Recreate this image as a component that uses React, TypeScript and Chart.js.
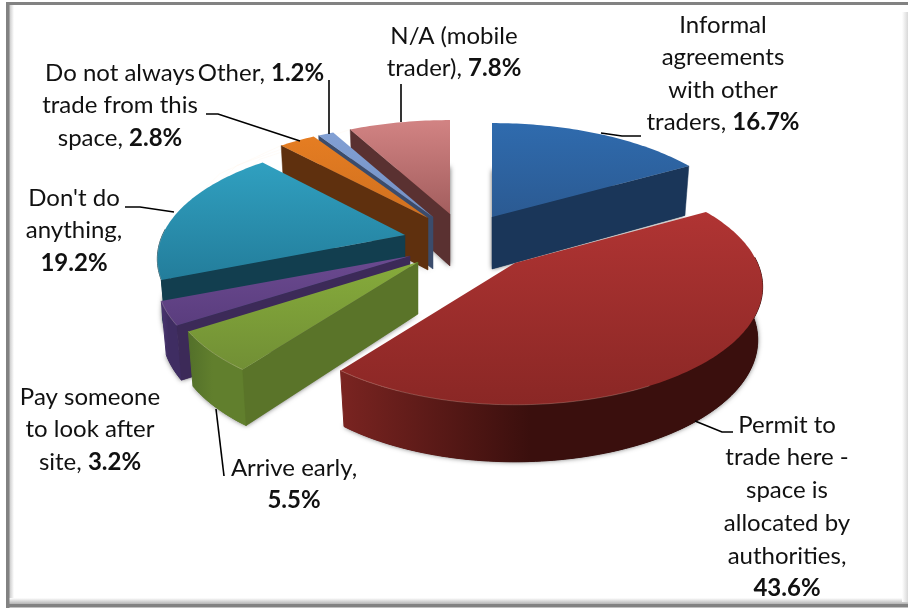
import React, { useEffect, useRef } from "react";
import { Chart, registerables } from "chart.js";

Chart.register(...registerables);

const categories = [
  "Informal agreements with other traders",
  "Permit to trade here - space is allocated by authorities",
  "Arrive early",
  "Pay someone to look after site",
  "Don't do anything",
  "Do not always trade from this space",
  "Other",
  "N/A (mobile trader)",
];
const shareValues = [16.7, 43.6, 5.5, 3.2, 19.2, 2.8, 1.2, 7.8];

const labelLines = [
  ["Informal", "agreements", "with other", "traders,"],
  ["Permit to", "trade here -", "space is", "allocated by", "authorities,", ""],
  ["Arrive early,", ""],
  ["Pay someone", "to look after", "site,"],
  ["Don't do", "anything,", ""],
  ["Do not always", "trade from this", "space,"],
  ["Other,"],
  ["N/A (mobile", "trader),"],
];

// Presentation tables (not data)
const labelAnchor: [number, number][] = [
  [723, 25], [787, 425], [294, 468], [90, 397], [74, 198], [120, 73], [261, 73], [454, 36],
];
const labelLineStep = [32.5, 32.7, 32, 32.5, 32.5, 32.5, 32, 32];
const leaders: [number, number][][] = [
  [[641, 136], [622, 136], [601, 133]],
  [[733, 432], [722, 432], [695, 421]],
  [[224, 476], [216, 409]],
  [],
  [[125, 207], [140, 207], [174, 212]],
  [[206, 114], [218, 114], [300, 141]],
  [[329, 80], [329, 134]],
  [[401, 84], [401, 122]],
];
const apex: [number, number][] = [
  [492, 217], [515, 263], [418, 262], [410, 256], [405, 235], [428, 218], [433, 217], [450, 214],
];
const widthScale = [1, 0.97, 0.975, 0.99, 0.97, 1, 1, 1];
const topColors = [
  ["#2f6bae", "#2b5a92"], ["#b03433", "#8a2725"], ["#86ab3b", "#718f35"], ["#6b4a90", "#5a3d7e"],
  ["#30a0c0", "#237d9b"], ["#e57d22", "#d0701f"], ["#82a0d4", "#7390c4"], ["#d28383", "#a35e5e"],
];
const radialWall = ["#1a3659", "#000", "#5a7429", "#3c2a58", "#123e4f", "#5f300e", "#3b4c6c", "#5a3131"];
const arcWall = [
  ["#1a3659", "#1a3659"], ["#7a2421", "#3a0f0d"], ["#53702a", "#617f2d"], ["#4a3570", "#3f2d62"],
  ["#123e4f", "#123e4f"], ["#5f300e", "#5f300e"], ["#3b4c6c", "#3b4c6c"], ["#5a3131", "#5a3131"],
];
const drawOrder = [0, 7, 6, 5, 4, 3, 2, 1];
const R = 250;
const KR = 113;
const PERSP = 0.203;
const BOTTOM_SHRINK = 0.02;

function proj(i: number, th: number, r: number, z: number): [number, number] {
  const x = r * Math.sin(th);
  const y = -r * Math.cos(th);
  const f = 1 / (1 - PERSP * y);
  return [
    apex[i][0] + widthScale[i] * R * x * f * (1 - BOTTOM_SHRINK * z),
    apex[i][1] + KR * y * f + z * (52 + 5 * y),
  ];
}

function poly(ctx: CanvasRenderingContext2D, pts: [number, number][]) {
  ctx.beginPath();
  pts.forEach((p, n) => (n ? ctx.lineTo(p[0], p[1]) : ctx.moveTo(p[0], p[1])));
  ctx.closePath();
}

function arcPts(i: number, a: number, b: number, z: number): [number, number][] {
  const out: [number, number][] = [];
  const n = Math.max(2, Math.ceil((b - a) / 0.02));
  for (let k = 0; k <= n; k++) out.push(proj(i, a + ((b - a) * k) / n, 1, z));
  return out;
}

const pie3d = {
  id: "pie3d",
  beforeDraw(chart: any) {
    const ctx: CanvasRenderingContext2D = chart.ctx;
    ctx.save();
    ctx.fillStyle = "#ffffff";
    ctx.fillRect(0, 0, 908, 610);
    let g = ctx.createLinearGradient(9, 0, 14, 0);
    g.addColorStop(0, "#c4c4c4");
    g.addColorStop(1, "#ffffff");
    ctx.fillStyle = g;
    ctx.fillRect(9, 5, 5, 597);
    g = ctx.createLinearGradient(0, 598, 0, 604);
    g.addColorStop(0, "#ffffff");
    g.addColorStop(1, "#b4b4b4");
    ctx.fillStyle = g;
    ctx.fillRect(9, 598, 899, 6);
    g = ctx.createLinearGradient(902, 0, 908, 0);
    g.addColorStop(0, "#ffffff");
    g.addColorStop(1, "#d8d8d8");
    ctx.fillStyle = g;
    ctx.fillRect(902, 12, 6, 590);
    ctx.fillStyle = "#828282";
    ctx.fillRect(6, 2, 902, 3);
    ctx.fillRect(6, 2, 3.5, 606);
    ctx.fillRect(6, 604, 902, 3.5);
    ctx.restore();
  },
  beforeDatasetsDraw(chart: any) {
    const ctx: CanvasRenderingContext2D = chart.ctx;
    const arcs = chart.getDatasetMeta(0).data;
    ctx.save();
    ctx.lineJoin = "round";
    drawOrder.forEach((i) => {
      const s = arcs[i].startAngle + Math.PI / 2;
      const e = arcs[i].endAngle + Math.PI / 2;
      const a0 = proj(i, s, 0, 0);
      const top = [a0, ...arcPts(i, s, e, 0)] as [number, number][];

      // soft shadow cast by the underside of the solid
      ctx.save();
      ctx.shadowColor = "rgba(0,0,0,0.6)";
      ctx.shadowBlur = 5;
      ctx.fillStyle = radialWall[i];
      poly(ctx, [proj(i, s, 0, 1), ...arcPts(i, s, e, 1)]);
      ctx.fill();
      ctx.restore();

      // outer wall: only the part that faces the viewer
      const fa = Math.max(s, Math.PI / 2 - 0.05);
      const fb = Math.min(e, (Math.PI * 3) / 2 + 0.05);
      if (fb > fa) {
        const up = arcPts(i, fa, fb, 0);
        const dn = arcPts(i, fa, fb, 1).reverse();
        const xs = up.map((p) => p[0]);
        const gx = ctx.createLinearGradient(Math.max(...xs), 0, Math.min(...xs), 0);
        gx.addColorStop(0, arcWall[i][1]);
        gx.addColorStop(0.55, arcWall[i][1]);
        gx.addColorStop(1, arcWall[i][0]);
        ctx.fillStyle = gx;
        ctx.strokeStyle = gx;
        poly(ctx, [...up, ...dn]);
        ctx.fill();
        ctx.stroke();
      }

      // straight cut walls that face the viewer
      const walls: number[] = [];
      if (Math.sin(e) > 0.01) walls.push(e);
      if (Math.sin(s) < -0.01) walls.push(s);
      walls.forEach((t) => {
        const quad: [number, number][] = [proj(i, t, 0, 0), proj(i, t, 1, 0), proj(i, t, 1, 1), proj(i, t, 0, 1)];
        ctx.fillStyle = radialWall[i];
        ctx.strokeStyle = radialWall[i];
        ctx.lineWidth = 0.5;
        poly(ctx, quad);
        ctx.fill();
        ctx.stroke();
      });

      // top face
      const ys = top.map((p) => p[1]);
      const gy = ctx.createLinearGradient(0, Math.min(...ys), 0, Math.max(...ys));
      gy.addColorStop(0, topColors[i][0]);
      gy.addColorStop(1, topColors[i][1]);
      ctx.fillStyle = gy;
      poly(ctx, top);
      ctx.fill();

      // faint bevel along the front rim
      if (fb > Math.PI * 0.85) {
        ctx.strokeStyle = "rgba(255,235,220,0.22)";
        ctx.lineWidth = 1;
        ctx.beginPath();
        arcPts(i, Math.max(fa, Math.PI * 0.85), fb, 0).forEach((p, n) => (n ? ctx.lineTo(p[0], p[1]) : ctx.moveTo(p[0], p[1])));
        ctx.stroke();
      }
    });
    ctx.restore();
    return false;
  },
  afterDraw(chart: any) {
    const ctx: CanvasRenderingContext2D = chart.ctx;
    ctx.save();
    ctx.strokeStyle = "#000000";
    ctx.lineWidth = 1.6;
    leaders.forEach((pts) => {
      if (!pts.length) return;
      ctx.beginPath();
      pts.forEach((p, n) => (n ? ctx.lineTo(p[0], p[1]) : ctx.moveTo(p[0], p[1])));
      ctx.stroke();
    });
    const reg = '24px Lato, "Open Sans", sans-serif';
    const bold = 'bold 24px Lato, "Open Sans", sans-serif';
    ctx.fillStyle = "#111111";
    ctx.textBaseline = "middle";
    ctx.textAlign = "left";
    ctx.filter = "blur(0.4px)";
    categories.forEach((_, i) => {
      const lines = labelLines[i];
      const pct = shareValues[i].toFixed(1) + "%";
      lines.forEach((line, n) => {
        const y = labelAnchor[i][1] + n * labelLineStep[i];
        const isLast = n === lines.length - 1;
        const head = isLast && line ? line + " " : line;
        ctx.font = reg;
        const wHead = ctx.measureText(head).width;
        ctx.font = bold;
        const wPct = isLast ? ctx.measureText(pct).width : 0;
        let x = labelAnchor[i][0] - (wHead + wPct) / 2;
        ctx.font = reg;
        ctx.fillText(head, x, y);
        if (isLast) {
          x += wHead;
          ctx.font = bold;
          ctx.fillText(pct, x, y);
        }
      });
    });
    ctx.restore();
  },
};

export default function App() {
  const ref = useRef<HTMLCanvasElement>(null);
  useEffect(() => {
    const chart = new Chart(ref.current as HTMLCanvasElement, {
      type: "pie",
      data: {
        labels: categories,
        datasets: [{ data: shareValues, backgroundColor: topColors.map((c) => c[0]), borderWidth: 0 }],
      },
      options: {
        responsive: false,
        animation: false,
        plugins: { legend: { display: false }, tooltip: { enabled: false } },
      },
      plugins: [pie3d],
    } as any);
    return () => chart.destroy();
  }, []);
  return (
    <div style={{ position: "absolute", left: 0, top: 0, width: 908, height: 610 }}>
      <canvas ref={ref} width={908} height={610} style={{ display: "block" }} />
    </div>
  );
}
